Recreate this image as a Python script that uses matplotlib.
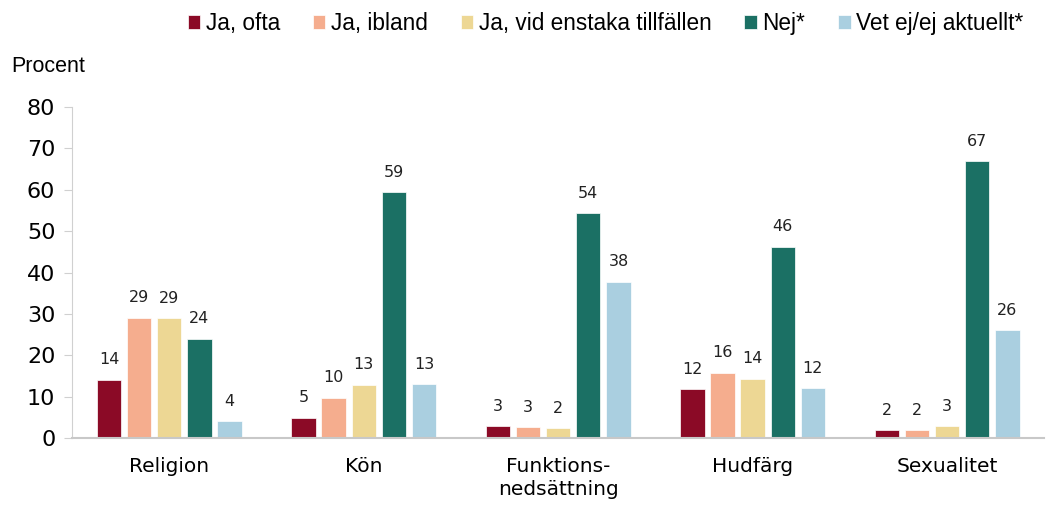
import numpy as np
import matplotlib.pyplot as plt

plt.rcParams['font.family'] = ['DejaVu Sans']

categories = ["Religion", "Kön", "Funktions-\nnedsättning", "Hudfärg", "Sexualitet"]
series = ["Ja, ofta", "Ja, ibland", "Ja, vid enstaka tillfällen", "Nej*", "Vet ej/ej aktuellt*"]
colors = ["#8B0A26", "#F5AD8E", "#EDD794", "#1B7064", "#AACFE0"]

ja_ofta = [14.1, 4.9, 2.9, 11.8, 1.9]
ja_ibland = [29.1, 9.7, 2.6, 15.8, 1.9]
ja_enstaka = [29.0, 12.9, 2.4, 14.3, 2.8]
nej = [24.0, 59.4, 54.3, 46.2, 66.9]
vet_ej = [4.0, 13.0, 37.8, 12.1, 26.0]
values = [ja_ofta, ja_ibland, ja_enstaka, nej, vet_ej]

fig = plt.figure(figsize=(10.5, 5.07), dpi=100)
ax = fig.add_axes([0.0686, 0.136, 0.926, 0.653])

x = np.arange(len(categories))
step = 0.155
width = 0.125
for i, (name, vals, c) in enumerate(zip(series, values, colors)):
    pos = x + (i - 2) * step
    bars = ax.bar(pos, vals, width, color=c, label=name, edgecolor="white", linewidth=0.5)
    for b, v in zip(bars, vals):
        ax.text(b.get_x() + b.get_width() / 2, v + 3, f"{round(v):d}",
                ha="center", va="bottom", fontsize=11.5, color="#222222")

ax.set_xlim(-0.5, 4.5)
ax.set_ylim(0, 80)
ax.set_yticks(range(0, 81, 10))
ax.set_xticks(x)
ax.set_xticklabels(categories, fontsize=14.5, linespacing=1.25)
ax.tick_params(axis="x", length=0, pad=14)
ax.tick_params(axis="y", labelsize=16, length=6, color="#d0d0d0", pad=6)
for s in ["top", "right"]:
    ax.spines[s].set_visible(False)
ax.spines["left"].set_color("#d0d0d0")
ax.spines["bottom"].set_color("#c8c8c8")
ax.spines["bottom"].set_linewidth(1.5)

fig.text(0.011, 0.858, "Procent", fontsize=15.5, family="Liberation Sans")

fig.legend(loc="upper right", bbox_to_anchor=(0.99, 1.008), ncol=5, frameon=False,
           prop={"family": "Liberation Sans", "size": 16.3},
           handlelength=0.55, handleheight=0.6, handletextpad=0.25,
           columnspacing=1.45, borderaxespad=0.3)

fig.savefig("out.png", dpi=100)
